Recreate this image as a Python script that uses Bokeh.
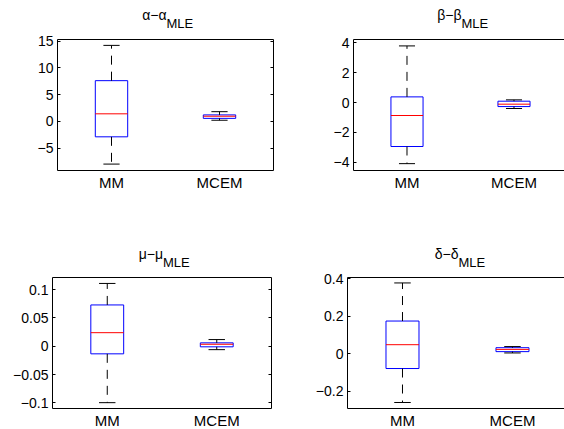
from bokeh.plotting import figure
from bokeh.models import Range1d, FixedTicker, LinearAxis
from bokeh.core.properties import value
from bokeh.layouts import column, row
from bokeh.embed import file_html
from bokeh.resources import INLINE

methods = ["MM", "MCEM"]
positions = [1, 2]

# alpha - alpha_MLE
alpha_lo = [-8.0, 0.2]
alpha_q1 = [-2.9, 0.55]
alpha_med = [1.4, 0.95]
alpha_q3 = [7.6, 1.2]
alpha_hi = [14.2, 1.8]
alpha_ticks = [-5, 0, 5, 10, 15]
alpha_labels = ["\u22125", "0", "5", "10", "15"]

# beta - beta_MLE
beta_lo = [-4.1, -0.4]
beta_q1 = [-2.95, -0.27]
beta_med = [-0.87, -0.11]
beta_q3 = [0.38, 0.09]
beta_hi = [3.8, 0.18]
beta_ticks = [-4, -2, 0, 2, 4]
beta_labels = ["\u22124", "\u22122", "0", "2", "4"]

# mu - mu_MLE
mu_lo = [-0.0997, -0.006]
mu_q1 = [-0.0134, -0.001]
mu_med = [0.024, 0.0035]
mu_q3 = [0.073, 0.006]
mu_hi = [0.111, 0.0118]
mu_ticks = [-0.1, -0.05, 0, 0.05, 0.1]
mu_labels = ["\u22120.1", "\u22120.05", "0", "0.05", "0.1"]

# delta - delta_MLE
delta_lo = [-0.259, 0.005]
delta_q1 = [-0.078, 0.012]
delta_med = [0.049, 0.024]
delta_q3 = [0.175, 0.033]
delta_hi = [0.378, 0.039]
delta_ticks = [-0.2, 0, 0.2, 0.4]
delta_labels = ["\u22120.2", "0", "0.2", "0.4"]

titles_main = ["\u03b1\u2212\u03b1", "\u03b2\u2212\u03b2", "\u03bc\u2212\u03bc", "\u03b4\u2212\u03b4"]
title_sub = "MLE"

FONT = "Liberation Sans"
BOX_W = 0.3
CAP_W = 0.15


def title_fig(fw, bl, br, h, xend, main, base_main, base_sub):
    t = figure(frame_width=fw, frame_height=h, output_backend="svg",
               toolbar_location=None, x_range=Range1d(0.5, xend),
               y_range=Range1d(0, h), min_border_left=bl, min_border_right=br,
               min_border_top=0, min_border_bottom=0,
               x_axis_type=None, y_axis_type=None)
    t.grid.visible = False
    t.outline_line_color = None
    t.background_fill_color = "white"
    t.border_fill_color = "white"
    t.text(x=[1.5], y=[base_main], text=[main], text_align="right",
           text_baseline="alphabetic", x_offset=1, text_color="black",
           text_font=value(FONT), text_font_size="14px")
    t.text(x=[1.5], y=[base_sub], text=[title_sub], text_align="left",
           text_baseline="alphabetic", x_offset=1, text_color="black",
           text_font=value(FONT), text_font_size="13px")
    return t


def panel(fw, fh, bl, br, bt, bb, xend, yr, ticks, labels,
          lo, q1, med, q3, hi, left_col):
    p = figure(frame_width=fw, frame_height=fh, output_backend="svg",
               toolbar_location=None, x_range=Range1d(0.5, xend),
               y_range=Range1d(*yr), min_border_left=bl, min_border_right=br,
               min_border_top=bt, min_border_bottom=bb)
    p.grid.visible = False
    p.background_fill_color = "white"
    p.border_fill_color = "white"
    p.outline_line_color = None

    # y axis
    ya = p.yaxis[0]
    ya.ticker = FixedTicker(ticks=ticks)
    ya.major_label_overrides = {t: l for t, l in zip(ticks, labels)}
    ya.major_tick_in = 3
    ya.major_tick_out = 0
    ya.minor_tick_line_color = None
    ya.axis_line_color = "black"
    ya.major_label_standoff = 4
    ya.major_label_text_font = FONT
    ya.major_label_text_font_size = "14px"
    ya.major_label_text_color = "black"

    # x axis
    xa = p.xaxis[0]
    xa.ticker = FixedTicker(ticks=positions)
    xa.major_label_overrides = {pp: m for pp, m in zip(positions, methods)}
    xa.major_tick_in = 0
    xa.major_tick_out = 0
    xa.minor_tick_line_color = None
    xa.axis_line_color = "black"
    xa.major_label_standoff = 3
    xa.major_label_text_font = FONT
    xa.major_label_text_font_size = "15px"
    xa.major_label_text_line_height = 1.0
    xa.major_label_text_color = "black"

    # top border
    top = LinearAxis(ticker=FixedTicker(ticks=[]), axis_line_color="black",
                     major_tick_line_color=None, minor_tick_line_color=None,
                     major_label_text_font_size="0px", major_label_standoff=0)
    p.add_layout(top, "above")
    if left_col:
        ra = LinearAxis(ticker=FixedTicker(ticks=ticks), axis_line_color="black",
                        major_tick_in=3, major_tick_out=0,
                        minor_tick_line_color=None)
        ra.major_label_overrides = {t: "" for t in ticks}
        p.add_layout(ra, "right")

    # boxes
    p.quad(left=[x - BOX_W / 2 for x in positions],
           right=[x + BOX_W / 2 for x in positions],
           bottom=q1, top=q3, fill_color=None, line_color="#0000ff", line_width=1)
    p.segment(x0=[x - BOX_W / 2 for x in positions], y0=med,
              x1=[x + BOX_W / 2 for x in positions], y1=med,
              line_color="#ff0000", line_width=1)
    # whiskers
    p.segment(x0=positions, y0=q3, x1=positions, y1=hi,
              line_color="black", line_width=1, line_dash="9 7")
    p.segment(x0=positions, y0=q1, x1=positions, y1=lo,
              line_color="black", line_width=1, line_dash="9 7")
    # caps
    p.segment(x0=[x - CAP_W / 2 for x in positions], y0=hi,
              x1=[x + CAP_W / 2 for x in positions], y1=hi,
              line_color="black", line_width=1)
    p.segment(x0=[x - CAP_W / 2 for x in positions], y0=lo,
              x1=[x + CAP_W / 2 for x in positions], y1=lo,
              line_color="black", line_width=1)
    return p


# top row: title strip 0..31, frame 39..170
t1 = title_fig(216, 57, 27, 31, 2.5, titles_main[0], 17, 8)
t2 = title_fig(211, 53, 0, 31, 2.472, titles_main[1], 17, 8)
p1 = panel(216, 131, 57, 27, 8, 47, 2.5, (-9.2, 15.3), alpha_ticks, alpha_labels,
           alpha_lo, alpha_q1, alpha_med, alpha_q3, alpha_hi, True)
p2 = panel(211, 131, 53, 0, 8, 47, 2.472, (-4.56, 4.23), beta_ticks, beta_labels,
           beta_lo, beta_q1, beta_med, beta_q3, beta_hi, False)
# bottom row: title strip 217..269, frame 277..408
t3 = title_fig(219, 52, 25, 52, 2.5, titles_main[2], 16, 7)
t4 = title_fig(217, 51, 0, 52, 2.473, titles_main[3], 16, 7)
p3 = panel(219, 131, 52, 25, 8, 21, 2.5, (-0.110, 0.1215), mu_ticks, mu_labels,
           mu_lo, mu_q1, mu_med, mu_q3, mu_hi, True)
p4 = panel(217, 131, 51, 0, 8, 21, 2.473, (-0.291, 0.407), delta_ticks, delta_labels,
           delta_lo, delta_q1, delta_med, delta_q3, delta_hi, False)

layout = column(row(t1, t2), row(p1, p2), row(t3, t4), row(p3, p4))
open("out.html", "w").write(file_html(layout, INLINE))
